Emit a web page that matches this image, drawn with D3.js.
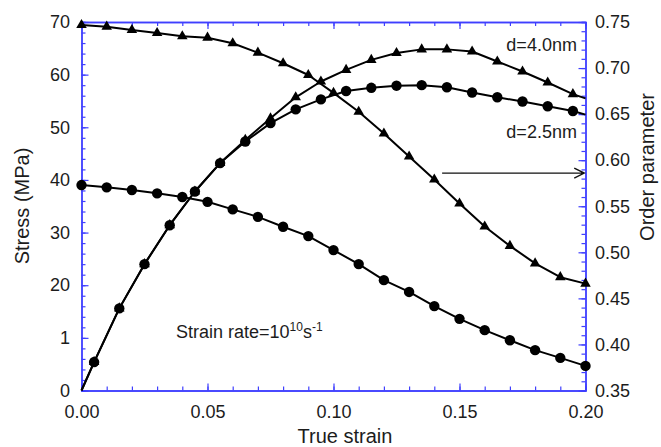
<!DOCTYPE html>
<html>
<head>
<meta charset="utf-8">
<script src="https://cdn.jsdelivr.net/npm/d3@7"></script>
<style>
  html, body { margin: 0; padding: 0; background: #fff; }
  svg { display: block; font-family: "Liberation Sans", Arial, sans-serif; }
</style>
</head>
<body>
<svg id="chart" width="661" height="447"></svg>
<script>
// Stress samples (left axis): strain positions and values for both grain sizes
const strainStress = [0, 0.005, 0.015, 0.025, 0.035, 0.045, 0.055, 0.065, 0.075, 0.085, 0.095,
  0.105, 0.115, 0.125, 0.135, 0.145, 0.155, 0.165, 0.175, 0.185, 0.195, 0.2];
const stressD40 = [0, 5.4, 15.6, 24.0, 31.4, 37.8, 43.2, 47.6, 51.7, 55.7, 58.7,
  60.9, 62.8, 64.1, 64.8, 64.8, 64.4, 62.5, 60.6, 58.5, 56.3, 55.5];
const stressD25 = [0, 5.4, 15.6, 24.0, 31.4, 37.8, 43.2, 47.3, 50.8, 53.4, 55.3,
  56.9, 57.5, 57.9, 58.0, 57.6, 56.6, 55.7, 54.9, 54.0, 53.1, 52.4];

// Order parameter samples (right axis)
const strainOrder = [0, 0.01, 0.02, 0.03, 0.04, 0.05, 0.06, 0.07, 0.08, 0.09, 0.10,
  0.11, 0.12, 0.13, 0.14, 0.15, 0.16, 0.17, 0.18, 0.19, 0.20];
const orderD40 = [0.7467, 0.7449, 0.7413, 0.738, 0.7345, 0.733, 0.7269, 0.7167, 0.7052, 0.6925, 0.673,
  0.6526, 0.629, 0.604, 0.579, 0.553, 0.528, 0.507, 0.488, 0.473, 0.466];
const orderD25 = [0.573, 0.5705, 0.5676, 0.564, 0.560, 0.5548, 0.5466, 0.5385, 0.5277, 0.5176, 0.5024,
  0.4872, 0.4698, 0.457, 0.4416, 0.4278, 0.4155, 0.4046, 0.3938, 0.3854, 0.3767];

// Axis ticks and labels
const xTicks = [0, 0.05, 0.10, 0.15, 0.20];
const xTickLabels = ["0.00", "0.05", "0.10", "0.15", "0.20"];
const xMinorTicks = d3.range(0, 21).map(i => i / 100);
const yLeftTicks = [0, 10, 20, 30, 40, 50, 60, 70];
const yLeftTickLabels = ["0", "1", "20", "30", "40", "50", "60", "70"];
const yLeftMinorTicks = d3.range(0, 71, 2);
const yRightTicks = [0.35, 0.40, 0.45, 0.50, 0.55, 0.60, 0.65, 0.70, 0.75];
const yRightTickLabels = ["0.35", "0.40", "0.45", "0.50", "0.55", "0.60", "0.65", "0.70", "0.75"];
const yRightMinorTicks = d3.range(35, 76).map(i => i / 100);

const svg = d3.select("#chart");
const axisColor = "#3f3fff";
const textColor = "#1c1c1c";

const x = d3.scaleLinear().domain([0, 0.2]).range([81.5, 585.5]);
const yL = d3.scaleLinear().domain([0, 70]).range([390.5, 22]);
const yR = d3.scaleLinear().domain([0.35, 0.75]).range([390.5, 22]);

function styleAxis(g) {
  g.selectAll("path.domain").attr("stroke", axisColor).attr("stroke-width", 1.4);
  g.selectAll(".tick line").attr("stroke", axisColor).attr("stroke-width", 1.2);
  g.selectAll(".tick text").attr("fill", textColor).attr("font-size", 18)
    .attr("font-family", "Liberation Sans, Arial, sans-serif");
}

// minor ticks (inward)
svg.append("g").attr("transform", "translate(0,390.5)")
  .call(d3.axisBottom(x).tickValues(xMinorTicks).tickSize(-4).tickFormat("")).call(styleAxis);
svg.append("g").attr("transform", "translate(0,22)")
  .call(d3.axisTop(x).tickValues(xMinorTicks).tickSize(-4).tickFormat("")).call(styleAxis);
svg.append("g").attr("transform", "translate(81.5,0)")
  .call(d3.axisLeft(yL).tickValues(yLeftMinorTicks).tickSize(-4).tickFormat("")).call(styleAxis);
svg.append("g").attr("transform", "translate(585.5,0)")
  .call(d3.axisRight(yR).tickValues(yRightMinorTicks).tickSize(-4).tickFormat("")).call(styleAxis);

// major ticks with labels
svg.append("g").attr("transform", "translate(0,390.5)")
  .call(d3.axisBottom(x).tickValues(xTicks).tickSize(-7).tickSizeOuter(0).tickPadding(15)
    .tickFormat((d, i) => xTickLabels[i])).call(styleAxis);
svg.append("g").attr("transform", "translate(0,22)")
  .call(d3.axisTop(x).tickValues(xTicks).tickSize(-7).tickSizeOuter(0).tickFormat("")).call(styleAxis);
svg.append("g").attr("transform", "translate(81.5,0)")
  .call(d3.axisLeft(yL).tickValues(yLeftTicks).tickSize(-7).tickSizeOuter(0).tickPadding(11.5)
    .tickFormat((d, i) => yLeftTickLabels[i])).call(styleAxis);
svg.append("g").attr("transform", "translate(585.5,0)")
  .call(d3.axisRight(yR).tickValues(yRightTicks).tickSize(-7).tickSizeOuter(0).tickPadding(9.5)
    .tickFormat((d, i) => yRightTickLabels[i])).call(styleAxis);

// curves
const plot = svg.append("g");
function drawCurve(xs, ys, yScale, shape, markerFilter) {
  const pts = xs.map((s, i) => [x(s), yScale(ys[i])]);
  plot.append("path").attr("d", d3.line()(pts))
    .attr("fill", "none").attr("stroke", "#000").attr("stroke-width", 2)
    .attr("stroke-linejoin", "round");
  const sym = shape === "circle"
    ? d3.symbol().type(d3.symbolCircle).size(Math.PI * 5.2 * 5.2)
    : d3.symbol().type(d3.symbolTriangle).size(48);
  plot.selectAll(null).data(pts.filter((p, i) => markerFilter(i, pts.length))).enter()
    .append("path").attr("d", sym)
    .attr("transform", d => `translate(${d[0]},${d[1]})`)
    .attr("fill", "#000");
}
const inner = (i, n) => i > 0 && i < n - 1;
const all = () => true;
drawCurve(strainStress, stressD25, yL, "circle", inner);
drawCurve(strainStress, stressD40, yL, "triangle", inner);
drawCurve(strainOrder, orderD25, yR, "circle", all);
drawCurve(strainOrder, orderD40, yR, "triangle", all);

// annotations
const ann = svg.append("g").attr("fill", textColor).attr("font-size", 18);
ann.append("text").attr("x", x(0.1966)).attr("y", yL(64.5)).attr("text-anchor", "end").text("d=4.0nm");
ann.append("text").attr("x", x(0.1966)).attr("y", yL(48.0)).attr("text-anchor", "end").text("d=2.5nm");

const rate = ann.append("text").attr("x", x(0.0375)).attr("y", yL(9.95));
rate.append("tspan").text("Strain rate=10");
rate.append("tspan").attr("font-size", 12).attr("dy", -7).text("10");
rate.append("tspan").attr("dy", 7).text("s");
rate.append("tspan").attr("font-size", 12).attr("dy", -7).text("-1");

// arrow pointing to the order-parameter axis
const ay = yR(0.586);
const ax0 = x(0.1431), ax1 = x(0.1995);
svg.append("path")
  .attr("d", `M${ax0},${ay}H${ax1}M${ax1 - 10},${ay - 5}L${ax1},${ay}L${ax1 - 10},${ay + 5}`)
  .attr("fill", "none").attr("stroke", "#111").attr("stroke-width", 1.4);

// axis titles
svg.append("text").attr("x", 345).attr("y", 443).attr("text-anchor", "middle")
  .attr("font-size", 20).attr("fill", textColor).text("True strain");
svg.append("text").attr("transform", "translate(28.5,206) rotate(-90)").attr("text-anchor", "middle")
  .attr("font-size", 20).attr("fill", textColor).text("Stress (MPa)");
svg.append("text").attr("transform", "translate(654,167) rotate(-90)").attr("text-anchor", "middle")
  .attr("font-size", 20).attr("fill", textColor).text("Order parameter");
</script>
</body>
</html>
